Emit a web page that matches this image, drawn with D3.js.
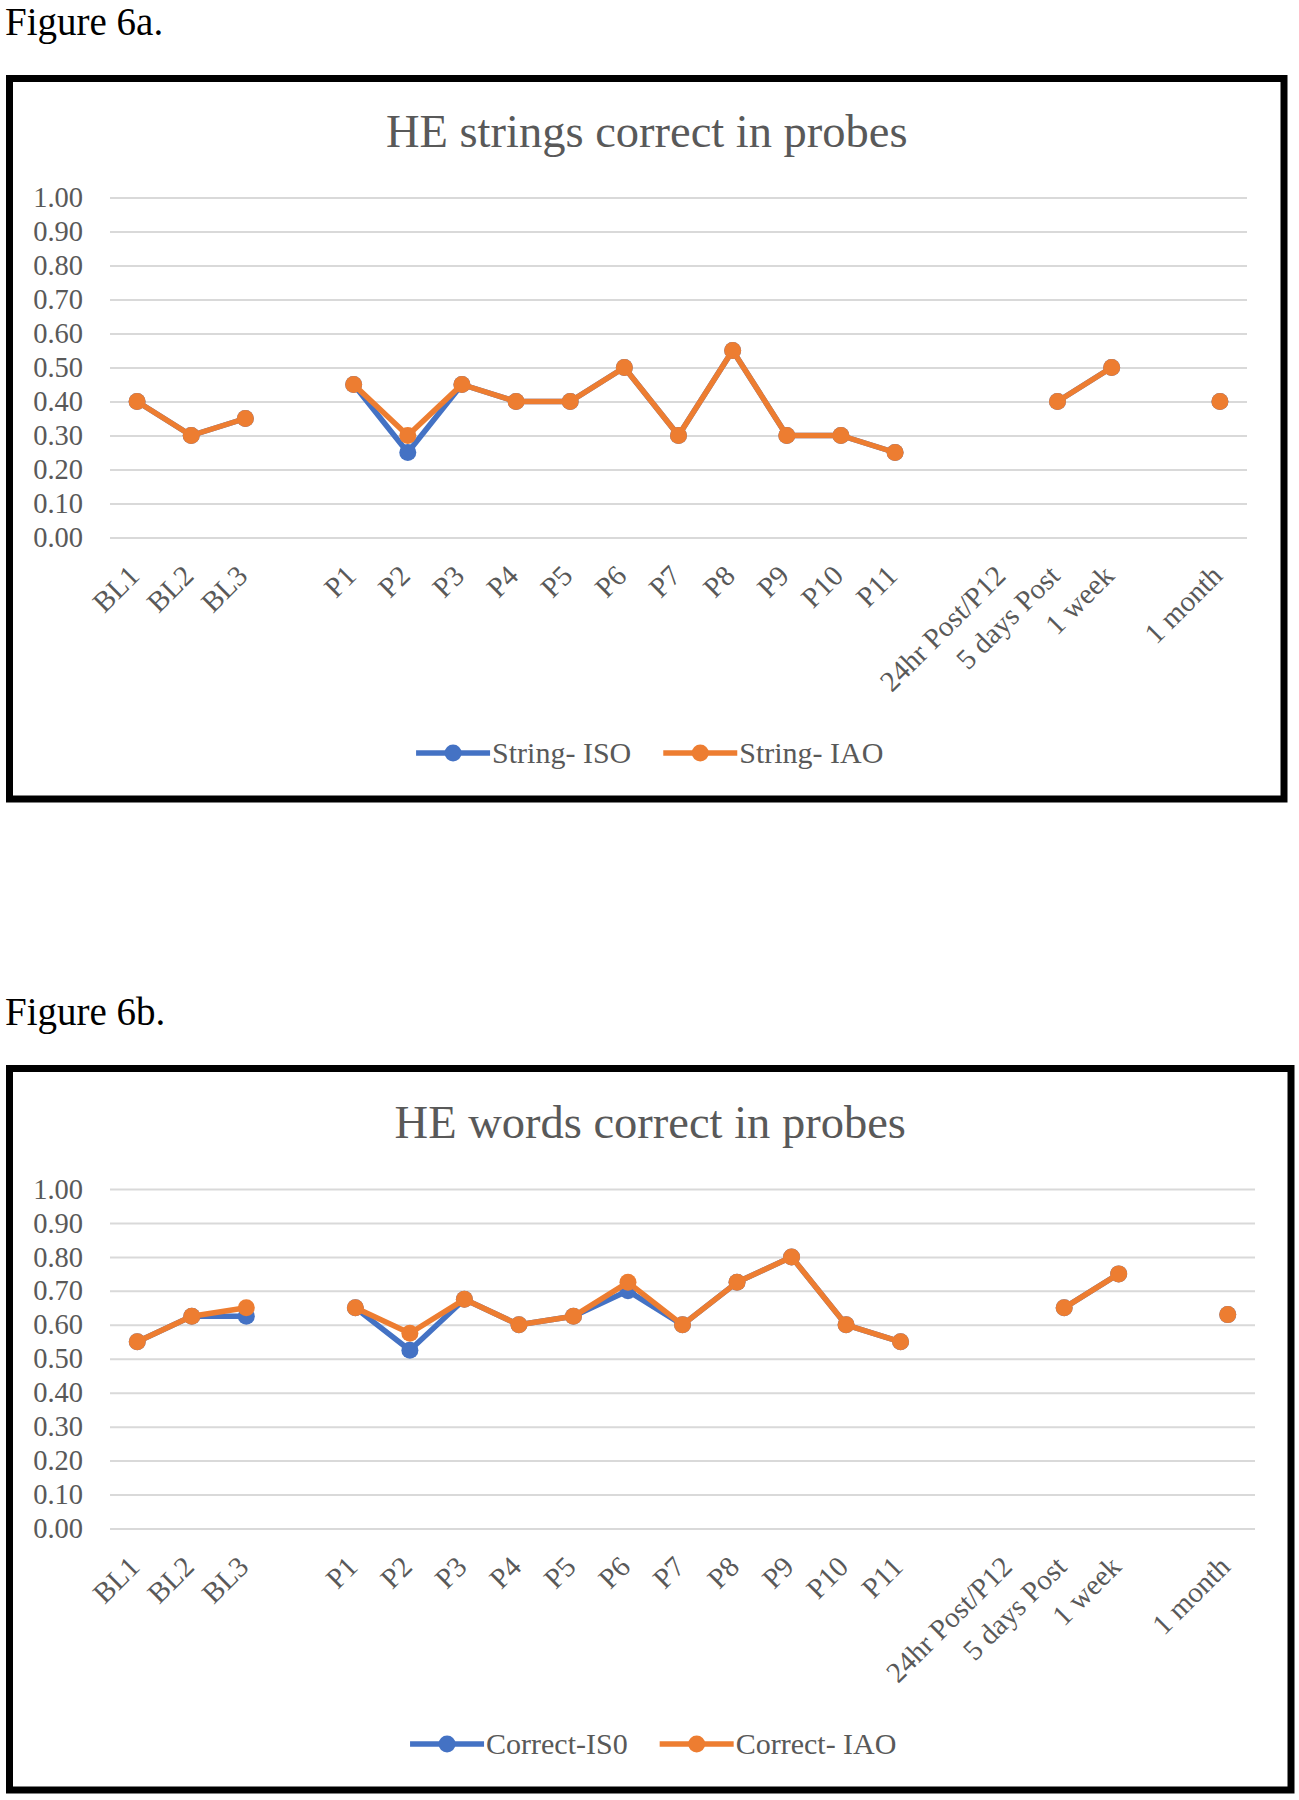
<!DOCTYPE html>
<html>
<head>
<meta charset="utf-8">
<script src="https://cdn.jsdelivr.net/npm/d3@7"></script>
<style>
  html, body { margin: 0; padding: 0; background: #ffffff; }
  svg { display: block; }
  text { font-family: "Liberation Serif", "Times New Roman", serif; }
</style>
</head>
<body>
<svg id="fig" width="1299" height="1800"></svg>
<script>
// ---------- data ----------
const categories = ["BL1", "BL2", "BL3", "", "P1", "P2", "P3", "P4", "P5", "P6", "P7", "P8", "P9", "P10", "P11", "", "24hr Post/P12", "5 days Post", "1 week", "", "1 month"];
const yTickValues = [0, 0.1, 0.2, 0.3, 0.4, 0.5, 0.6, 0.7, 0.8, 0.9, 1.0];

const stringISO = [0.40, 0.30, 0.35, null, 0.45, 0.25, 0.45, 0.40, 0.40, 0.50, 0.30, 0.55, 0.30, 0.30, 0.25, null, null, 0.40, 0.50, null, 0.40];
const stringIAO = [0.40, 0.30, 0.35, null, 0.45, 0.30, 0.45, 0.40, 0.40, 0.50, 0.30, 0.55, 0.30, 0.30, 0.25, null, null, 0.40, 0.50, null, 0.40];

const correctISO = [0.55, 0.625, 0.625, null, 0.65, 0.525, 0.675, 0.60, 0.625, 0.70, 0.60, 0.725, 0.80, 0.60, 0.55, null, null, 0.65, 0.75, null, 0.63];
const correctIAO = [0.55, 0.625, 0.65, null, 0.65, 0.575, 0.675, 0.60, 0.625, 0.725, 0.60, 0.725, 0.80, 0.60, 0.55, null, null, 0.65, 0.75, null, 0.63];

const figureLabels = ["Figure 6a.", "Figure 6b."];
const chartTitles = ["HE strings correct in probes", "HE words correct in probes"];
const seriesNames1 = ["String- ISO", "String- IAO"];
const seriesNames2 = ["Correct-IS0", "Correct- IAO"];

// ---------- styles / layout ----------
const BLUE = "#4472C4", ORANGE = "#ED7D31", GREY = "#595959", GRID = "#D9D9D9";
const svg = d3.select("#fig");

const charts = [
  { fig: figureLabels[0], figY: 35, title: chartTitles[0], names: seriesNames1, series: [stringISO, stringIAO],
    frame: { x0: 9.5, y0: 78.5, x1: 1284, y1: 799 }, plot: { x0: 110, x1: 1247, yTop: 197.5, yBot: 537.5 },
    titleY: 147, legendY: 753 },
  { fig: figureLabels[1], figY: 1025, title: chartTitles[1], names: seriesNames2, series: [correctISO, correctIAO],
    frame: { x0: 9.5, y0: 1068.5, x1: 1291, y1: 1790 }, plot: { x0: 110, x1: 1255, yTop: 1189, yBot: 1528.5 },
    titleY: 1137.5, legendY: 1744 }
];

charts.forEach(c => {
  const g = svg.append("g");
  // figure label
  g.append("text").attr("x", 5).attr("y", c.figY).attr("font-size", 39).attr("fill", "#000").text(c.fig);
  // frame
  g.append("rect").attr("x", c.frame.x0).attr("y", c.frame.y0)
    .attr("width", c.frame.x1 - c.frame.x0).attr("height", c.frame.y1 - c.frame.y0)
    .attr("fill", "#fff").attr("stroke", "#000").attr("stroke-width", 7);
  const cx = (c.frame.x0 + c.frame.x1) / 2;
  // title
  g.append("text").attr("x", cx).attr("y", c.titleY).attr("text-anchor", "middle")
    .attr("font-size", 46.5).attr("fill", GREY).text(c.title);

  const x = d3.scaleBand().domain(d3.range(categories.length)).range([c.plot.x0, c.plot.x1]);
  const y = d3.scaleLinear().domain([0, 1]).range([c.plot.yBot, c.plot.yTop]);
  const xc = i => x(i) + x.bandwidth() / 2;

  // gridlines + y axis labels
  const yAxis = d3.axisLeft(y).tickValues(yTickValues).tickFormat(d3.format(".2f"))
    .tickSize(-(c.plot.x1 - c.plot.x0)).tickPadding(27);
  const ya = g.append("g").attr("transform", `translate(${c.plot.x0},0)`).call(yAxis);
  ya.select(".domain").remove();
  ya.selectAll(".tick line").attr("stroke", GRID).attr("stroke-width", 2);
  ya.selectAll(".tick text").attr("font-size", 28.5).attr("fill", GREY)
    .attr("font-family", "Liberation Serif, Times New Roman, serif");

  // x axis labels
  const xAxis = d3.axisBottom(x).tickFormat(i => categories[i]).tickSize(0).tickPadding(0);
  const xa = g.append("g").attr("transform", `translate(0,${c.plot.yBot})`).call(xAxis);
  xa.select(".domain").remove();
  xa.selectAll(".tick text")
    .attr("font-size", 29).attr("fill", GREY).attr("font-family", "Liberation Serif, Times New Roman, serif")
    .attr("text-anchor", "end").attr("dy", "0")
    .attr("transform", "translate(4,40) rotate(-45)");

  // series
  const colors = [BLUE, ORANGE];
  c.series.forEach((vals, si) => {
    const pts = vals.map((v, i) => ({ i, v }));
    const line = d3.line().defined(d => d.v !== null).x(d => xc(d.i)).y(d => y(d.v));
    g.append("path").datum(pts).attr("d", line).attr("fill", "none")
      .attr("stroke", colors[si]).attr("stroke-width", 5.5).attr("stroke-linejoin", "round");
    g.selectAll(null).data(pts.filter(d => d.v !== null)).enter().append("circle")
      .attr("cx", d => xc(d.i)).attr("cy", d => y(d.v)).attr("r", 8.5).attr("fill", colors[si]);
  });

  // legend
  const lg = g.append("g");
  let xpos = 0;
  c.names.forEach((name, si) => {
    const it = lg.append("g").attr("transform", `translate(${xpos},0)`);
    it.append("line").attr("x1", 0).attr("x2", 74).attr("y1", 0).attr("y2", 0)
      .attr("stroke", colors[si]).attr("stroke-width", 5.5);
    it.append("circle").attr("cx", 37).attr("cy", 0).attr("r", 8.5).attr("fill", colors[si]);
    const t = it.append("text").attr("x", 76).attr("y", 0).attr("dy", "0.34em")
      .attr("font-size", 30).attr("fill", GREY).text(name);
    const w = 76 + t.node().getComputedTextLength();
    xpos += w + 32;
  });
  const total = xpos - 32;
  lg.attr("transform", `translate(${cx - total / 2 + 3},${c.legendY})`);
});
</script>
</body>
</html>
